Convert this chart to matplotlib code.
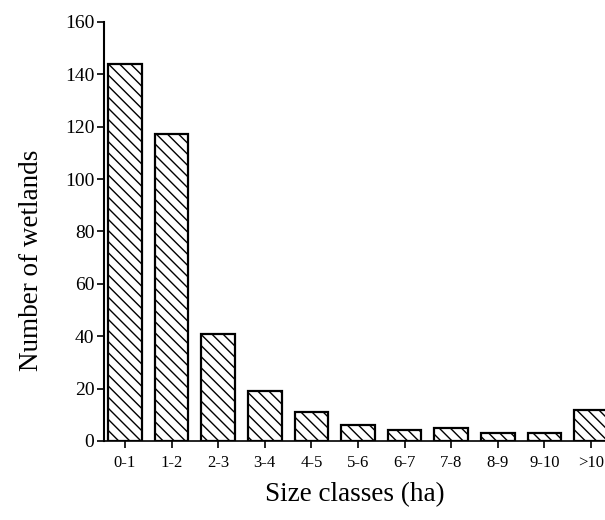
import matplotlib.pyplot as plt

# size classes of wetlands (ha) and how many wetlands fall in each
size_classes = ["0-1", "1-2", "2-3", "3-4", "4-5", "5-6", "6-7", "7-8", "8-9", "9-10", ">10"]
wetland_counts = [144, 117, 41, 19, 11, 6, 4, 5, 3, 3, 12]
y_ticks = [0, 20, 40, 60, 80, 100, 120, 140, 160]

plt.rcParams['font.family'] = ['Liberation Serif', 'DejaVu Serif']
plt.rcParams['hatch.linewidth'] = 1.0

fig = plt.figure(figsize=(6.05, 5.2), dpi=100)
ax = fig.add_axes([104 / 605, 0.152, 1 - 104 / 605, 0.806])

x = list(range(len(size_classes)))
ax.bar(x, wetland_counts, width=0.72, color='white', edgecolor='black',
       linewidth=1.6, hatch='\\\\\\')

ax.set_xlim(-0.45, 10.3)
ax.set_ylim(0, 160)
ax.set_xticks(x)
ax.set_xticklabels(size_classes, fontsize=12)
ax.set_yticks(y_ticks)
ax.set_yticklabels([str(v) for v in y_ticks], fontsize=14)

ax.spines['top'].set_visible(False)
ax.spines['right'].set_visible(False)
ax.spines['left'].set_linewidth(1.5)
ax.spines['bottom'].set_linewidth(1.2)
ax.tick_params(axis='y', direction='out', length=5, width=1.2, pad=2)
ax.tick_params(axis='x', direction='out', length=5, width=1.2, pad=5)

ax.set_ylabel("Number of wetlands", fontsize=19.5)
ax.yaxis.set_label_coords(-0.12, 0.43)
ax.set_xlabel("Size classes (ha)", fontsize=19.5, labelpad=8)

fig.savefig("out.png", dpi=100)
